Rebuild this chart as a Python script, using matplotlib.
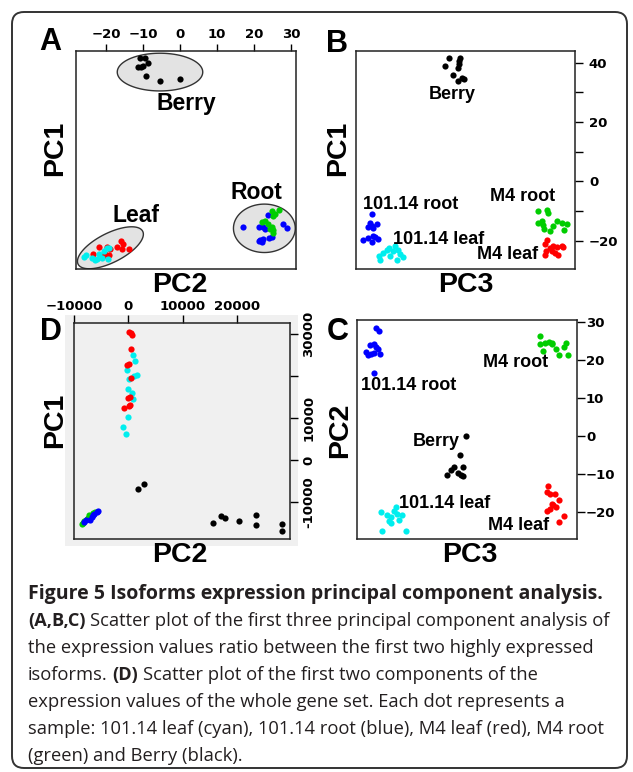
import matplotlib
matplotlib.use("Agg")
import matplotlib.pyplot as plt
from matplotlib.patches import FancyBboxPatch, Rectangle
from matplotlib.ticker import FixedLocator
import numpy as np

W, H = 633, 772

CYAN = '#00EEEE'
BLUE = '#0000FF'
RED = '#FF0000'
GREEN = '#00CD00'
BLACK = '#000000'

# ---- panel A : PC2 (x) vs PC1 (y), ratio data
a_berry_x = [-10.8, -9.5, -8.6, -11.3, -10.5, -9.9, -9.2, -5.4, 0.0]
a_berry_y = [41.4, 41.6, 40.0, 38.6, 38.4, 38.9, 35.5, 33.9, 34.4]
a_red_x = [-23.5, -21.9, -19.7, -18.9, -20.3, -19.2, -17.0, -15.9, -15.5, -15.7, -13.9, -20.8]
a_red_y = [-24.4, -22.2, -22.2, -22.8, -24.5, -24.7, -22.2, -20.2, -21.2, -22.7, -22.7, -25.0]
a_cyan_x = [-25.9, -25.4, -23.8, -23.1, -22.4, -21.8, -21.1, -19.8, -19.1, -20.5, -19.4]
a_cyan_y = [-25.5, -24.7, -25.8, -26.5, -26.0, -24.5, -25.8, -22.4, -22.4, -23.6, -26.0]
a_blue_x = [17.1, 23.9, 21.4, 22.5, 23.0, 27.9, 28.8, 21.6, 22.1, 22.5, 24.1, 24.8, 21.4]
a_blue_y = [-15.2, -11.2, -15.2, -15.2, -16.05, -14.3, -15.7, -19.65, -20.55, -19.4, -18.9, -18.7, -20.2]
a_green_x = [24.8, 25.7, 26.8, 22.1, 23.0, 23.9, 24.8, 25.2, 24.3, 25.1, 25.1]
a_green_y = [-10.1, -10.9, -9.8, -13.8, -13.2, -14.3, -15.2, -16.5, -16.05, -17.4, -11.6]
a_ticks = [-20, -10, 0, 10, 20, 30]

# ---- panel B : PC3 (x) vs PC1 (y)
b_berry_x = [-6.5, -7.6, -3.5, -3.8, -3.9, -4.1, -5.5, -4.0, -2.3, -3.0]
b_berry_y = [41.5, 38.9, 41.5, 40.5, 39.5, 38.2, 35.8, 33.9, 34.4, 34.8]
b_blue_x = [-27.5, -28.2, -26.3, -27.7, -27.3, -28.7, -30.0, -28.6, -27.7, -26.8, -25.9, -27.3]
b_blue_y = [-11.0, -14.1, -14.4, -15.0, -15.7, -15.3, -19.9, -19.1, -20.5, -18.8, -19.4, -18.5]
b_cyan_x = [-25.6, -25.4, -24.5, -23.6, -22.9, -22.7, -21.8, -21.3, -20.7, -20.4, -19.9, -19.0]
b_cyan_y = [-25.0, -26.5, -24.1, -23.25, -22.4, -25.0, -23.6, -21.9, -26.4, -23.0, -24.45, -25.4]
b_green_x = [17.9, 20.2, 20.5, 18.9, 17.9, 19.2, 19.5, 21.2, 22.1, 23.1, 24.4, 25.7, 25.1]
b_green_y = [-9.9, -9.55, -10.7, -13.3, -14.0, -14.8, -16.1, -16.85, -15.1, -13.4, -14.0, -14.4, -16.5]
b_red_x = [20.2, 19.8, 20.05, 19.8, 21.2, 22.1, 21.6, 23.0, 24.4, 23.4, 22.5, 24.8]
b_red_y = [-19.8, -21.2, -23.6, -24.7, -22.4, -21.6, -23.6, -22.2, -21.9, -24.7, -24.1, -22.2]
b_ticks = [40, 20, 0, -20]
b_minor = [30, 10, -10]

# ---- panel C : PC3 (x) vs PC2 (y)
c_blue_x = [-26.9, -26.0, -28.45, -27.5, -26.9, -26.2, -29.6, -28.9, -28.2, -27.5, -25.6, -27.3]
c_blue_y = [28.4, 27.6, 24.0, 24.3, 23.55, 22.9, 22.1, 21.4, 21.6, 21.9, 21.6, 16.7]
c_green_x = [18.0, 18.0, 19.4, 20.3, 21.2, 18.7, 22.2, 25.1, 24.5, 23.2, 25.65, 21.3]
c_green_y = [26.25, 24.2, 24.5, 24.9, 24.6, 22.4, 23.0, 24.4, 23.6, 21.4, 21.4, 24.3]
c_berry_x = [-2.2, -3.9, -3.2, -5.5, -6.45, -7.5, -3.7, -3.0, -4.4]
c_berry_y = [0.05, -5.0, -8.1, -8.3, -9.0, -10.2, -10.2, -10.7, -9.8]
c_cyan_x = [-25.5, -25.2, -23.7, -23.25, -22.6, -22.0, -21.3, -21.1, -20.6, -19.8, -18.6, -22.85]
c_cyan_y = [-20.2, -25.1, -20.85, -22.4, -21.4, -19.7, -18.8, -20.6, -22.1, -21.0, -25.0, -23.0]
c_red_x = [20.2, 19.7, 20.6, 21.9, 23.0, 21.1, 22.3, 19.7, 20.5, 24.4, 23.1, 21.55]
c_red_y = [-13.2, -14.7, -15.4, -15.4, -17.0, -18.1, -18.7, -19.7, -19.35, -21.2, -22.75, -18.35]
c_ticks = [30, 20, 10, 0, -10, -20]

# ---- panel D : whole gene set, PC2 (x) vs PC1 (y)
d_red_x = [37, 443, 627, 554, -332, 74, 406, -55, 185, 314, -830, 221]
d_red_y = [30596, 30358, 29763, 26358, 22739, 22977, 19643, 14762, 12786, 13215, 12310, 15119]
d_cyan_x = [812, 1181, -295, 1661, 1052, 166, -55, 627, 775, -18, -1033, -480]
d_cyan_y = [25000, 23501, 21429, 20238, 20000, 19239, 17024, 16072, 14476, 10357, 7929, 6119]
d_berry_x = [1845, 2952, 15572, 17048, 17841, 20424, 23505, 23561, 28413, 28413]
d_berry_y = [-6738, -5762, -14881, -13286, -13643, -14524, -13096, -15524, -15238, -16905]
d_green_x = [-8598, -8173, -7675, -7196, -6568, -6144, -8358, -7435]
d_green_y = [-15238, -14524, -13881, -13096, -12548, -12310, -15000, -13690]
d_blue_x = [-5830, -6328, -6753, -7066, -7804, -8173, -5590, -6513]
d_blue_y = [-12310, -12691, -13500, -14119, -14286, -14690, -12143, -13096]
d_xticks = [-10000, 0, 10000, 20000]
d_yticks = [-10000, 0, 10000, 20000, 30000]
d_ylabels = ['-10000', '0', '10000', '', '30000']

caption = [
    [("Figure 5 Isoforms expression principal component analysis.", "head")],
    [("(A,B,C)", "bold"), ("Scatter plot of the first three principal component analysis of", "normal")],
    [("the expression values ratio between the first two highly expressed", "normal")],
    [("isoforms.", "normal"), ("(D)", "bold"), ("Scatter plot of the first two components of the", "normal")],
    [("expression values of the whole gene set. Each dot represents a", "normal")],
    [("sample: 101.14 leaf (cyan), 101.14 root (blue), M4 leaf (red), M4 root", "normal")],
    [("(green) and Berry (black).", "normal")],
]

LAB = 'Liberation Sans'
TICK = 'DejaVu Sans'
S = 20


def px_axes(fig, x0, y0, x1, y1, **kw):
    return fig.add_axes([x0 / W, 1 - y1 / H, (x1 - x0) / W, (y1 - y0) / H], **kw)


def fig_label(fig, x, y, s, size, rot=0):
    fig.text(x / W, 1 - y / H, s, ha='center', va='center', rotation=rot,
             family=LAB, fontweight='bold', fontsize=size)


def ellipse(ax, c, u, v):
    t = np.linspace(0, 2 * np.pi, 200)
    ex = c[0] + u[0] * np.cos(t) + v[0] * np.sin(t)
    ey = c[1] + u[1] * np.cos(t) + v[1] * np.sin(t)
    ax.fill(ex, ey, fc='#E3E3E3', ec='#333333', lw=1, zorder=1)


def frame(ax):
    for sp in ax.spines.values():
        sp.set_linewidth(1.1)
        sp.set_color('#222222')


def bold_ticks(labels):
    for lab in labels:
        lab.set_fontweight('bold')
        lab.set_family(TICK)


fig = plt.figure(figsize=(W / 100, H / 100), dpi=100)

# outer rounded border
fig.patches.append(FancyBboxPatch((12 / 100, 4 / 100), 615 / 100, 756 / 100,
                                  boxstyle="round,pad=0,rounding_size=0.12",
                                  transform=fig.dpi_scale_trans, fc='none',
                                  ec='#333333', lw=1.4))

# ---------------- A
axA = px_axes(fig, 76, 51, 296, 269)
ellipse(axA, (-5.4, 36.8), (11.55, 0), (0, 6.35))
ellipse(axA, (22.8, -15.8), (8.35, 0), (0, 8.15))
ellipse(axA, (-18.8, -22.35), (8.7, 5.6), (1.9, -4.3))
axA.scatter(a_berry_x, a_berry_y, s=S, c=BLACK, lw=0, zorder=3)
axA.scatter(a_red_x, a_red_y, s=S, c=RED, lw=0, zorder=3)
axA.scatter(a_cyan_x, a_cyan_y, s=S, c=CYAN, lw=0, zorder=3)
axA.scatter(a_blue_x, a_blue_y, s=S, c=BLUE, lw=0, zorder=3)
axA.scatter(a_green_x, a_green_y, s=S, c=GREEN, lw=0, zorder=3)
axA.set_xlim(-28.1, 31.35)
axA.set_ylim(-29.5, 43.9)
axA.xaxis.tick_top()
axA.set_xticks(a_ticks)
axA.set_yticks([])
axA.tick_params(axis='x', length=5, width=1, pad=2, labelsize=9.5)
bold_ticks(axA.get_xticklabels())
frame(axA)
kwA = dict(ha='center', va='center', family=LAB, fontweight='bold', fontsize=16.5)
axA.text(1.6, 26.1, "Berry", **kwA)
axA.text(20.7, -3.85, "Root", **kwA)
axA.text(-11.9, -11.6, "Leaf", **kwA)

# ---------------- B
axB = px_axes(fig, 356, 51, 575, 269)
axB.scatter(b_berry_x, b_berry_y, s=S, c=BLACK, lw=0)
axB.scatter(b_blue_x, b_blue_y, s=S, c=BLUE, lw=0)
axB.scatter(b_cyan_x, b_cyan_y, s=S, c=CYAN, lw=0)
axB.scatter(b_green_x, b_green_y, s=S, c=GREEN, lw=0)
axB.scatter(b_red_x, b_red_y, s=S, c=RED, lw=0)
axB.set_xlim(-32, 28)
axB.set_ylim(-29.5, 43.9)
axB.set_xticks([])
axB.yaxis.tick_right()
axB.set_yticks(b_ticks)
axB.yaxis.set_minor_locator(FixedLocator(b_minor))
axB.tick_params(axis='y', which='both', length=6, width=1, pad=4, labelsize=9.5)
bold_ticks(axB.get_yticklabels())
frame(axB)
kwB = dict(ha='center', va='center', family=LAB, fontweight='bold', fontsize=13)
axB.text(-5.7, 29.4, "Berry", **kwB)
axB.text(-17.1, -7.7, "101.14 root", **kwB)
axB.text(-9.3, -19.65, "101.14 leaf", **kwB)
axB.text(13.75, -5.2, "M4 root", **kwB)
axB.text(9.5, -24.5, "M4 leaf", **kwB)

# ---------------- C
axC = px_axes(fig, 357, 320, 577, 539.3)
axC.scatter(c_blue_x, c_blue_y, s=S, c=BLUE, lw=0)
axC.scatter(c_green_x, c_green_y, s=S, c=GREEN, lw=0)
axC.scatter(c_berry_x, c_berry_y, s=S, c=BLACK, lw=0)
axC.scatter(c_cyan_x, c_cyan_y, s=S, c=CYAN, lw=0)
axC.scatter(c_red_x, c_red_y, s=S, c=RED, lw=0)
axC.set_xlim(-32, 28)
axC.set_ylim(-27.3, 30.6)
axC.set_xticks([])
axC.yaxis.tick_right()
axC.set_yticks(c_ticks)
axC.tick_params(axis='y', length=6, width=1, pad=0.5, labelsize=9.5)
bold_ticks(axC.get_yticklabels())
frame(axC)
axC.text(-17.8, 13.4, "101.14 root", **kwB)
axC.text(11.25, 19.4, "M4 root", **kwB)
axC.text(-10.4, -1.5, "Berry", **kwB)
axC.text(-8.2, -17.95, "101.14 leaf", **kwB)
axC.text(12.1, -23.6, "M4 leaf", **kwB)

# ---------------- D
fig.patches.append(Rectangle((65 / W, 1 - 546 / H), 233 / W, 231 / H,
                             transform=fig.transFigure, fc='#F0F0F0', ec='none', zorder=-5))
axD = px_axes(fig, 74.3, 323.3, 290, 539.3, facecolor='#F0F0F0')
axD.scatter(d_cyan_x, d_cyan_y, s=S, c=CYAN, lw=0)
axD.scatter(d_red_x, d_red_y, s=S, c=RED, lw=0)
axD.scatter(d_berry_x, d_berry_y, s=S, c=BLACK, lw=0)
axD.scatter(d_green_x, d_green_y, s=S, c=GREEN, lw=0)
axD.scatter(d_blue_x, d_blue_y, s=S, c=BLUE, lw=0)
axD.set_xlim(-10000, 29850)
axD.set_ylim(-18810, 32550)
axD.xaxis.tick_top()
axD.yaxis.tick_right()
axD.set_xticks(d_xticks)
axD.set_yticks(d_yticks, d_ylabels)
axD.tick_params(axis='x', length=6, width=1, pad=1.5, labelsize=9.5)
axD.tick_params(axis='y', length=6, width=1, pad=3, labelsize=9.5, labelrotation=90)
bold_ticks(axD.get_xticklabels())
bold_ticks(axD.get_yticklabels())
for lab in axD.get_yticklabels():
    lab.set_va('center')
frame(axD)

# axis labels and panel letters
fig_label(fig, 180, 285, "PC2", 20.5)
fig_label(fig, 55, 148, "PC1", 20.5, rot=90)
fig_label(fig, 466, 285, "PC3", 20.5)
fig_label(fig, 338, 148, "PC1", 20.5, rot=90)
fig_label(fig, 340, 430, "PC2", 20.5, rot=90)
fig_label(fig, 470, 555, "PC3", 20.5)
fig_label(fig, 55, 420, "PC1", 20.5, rot=90)
fig_label(fig, 180, 555, "PC2", 20.5)
fig_label(fig, 50.5, 42, "A", 22)
fig_label(fig, 337.5, 43.5, "B", 22)
fig_label(fig, 337.5, 331.5, "C", 22)
fig_label(fig, 50.5, 331.5, "D", 22)

# caption, drawn run by run so bold and regular parts join up
CAP_COLOR = '#231F20'
CAP_FONT = 'Open Sans'
styles = {"head": (14.0, "bold"), "bold": (13.1, "bold"), "normal": (13.2, "normal")}
renderer = fig.canvas.get_renderer()
probe1 = fig.text(0, 0, "aa", fontsize=13.2, family=CAP_FONT)
probe2 = fig.text(0, 0, "a a", fontsize=13.2, family=CAP_FONT)
space = probe2.get_window_extent(renderer).width - probe1.get_window_extent(renderer).width
probe1.remove()
probe2.remove()

base = 599
for i, line in enumerate(caption):
    x = 28
    y = base + 27 * i
    for j, (txt, style) in enumerate(line):
        size, weight = styles[style]
        if j > 0:
            x += space
        t = fig.text(x / W, 1 - y / H, txt, fontsize=size, family=CAP_FONT,
                     fontweight=weight, color=CAP_COLOR, ha='left', va='baseline')
        x = t.get_window_extent(renderer).x1

fig.savefig("out.png", dpi=100)
